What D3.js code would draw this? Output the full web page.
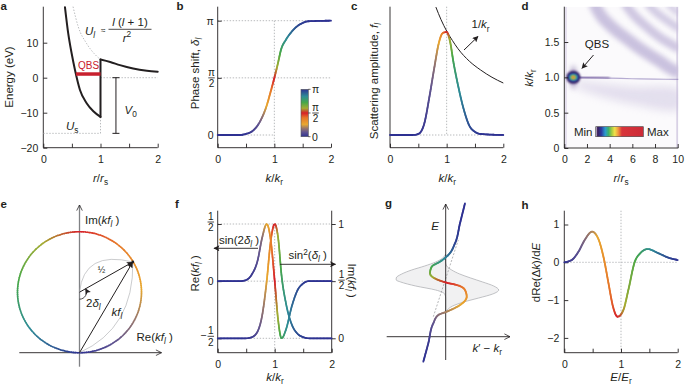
<!DOCTYPE html>
<html><head><meta charset="utf-8">
<script src="https://cdn.jsdelivr.net/npm/d3@7"></script>
<style>
body{margin:0;background:#fff}
svg{display:block;font-family:"Liberation Sans",Arial,Helvetica,sans-serif}
</style></head><body>
<svg id="fig" width="685" height="388"></svg>
<script>
// ---------- values ----------
// shared k/k_r grid for panels b, c, f
var kGrid = [0, 0.4, 0.5, 0.6, 0.7, 0.78, 0.86, 0.93, 1.0, 1.06, 1.12, 1.2, 1.3, 1.4, 1.5, 1.6, 2.0];
var phase = [0, 0, 0.01, 0.03, 0.08, 0.15, 0.25, 0.37, 0.5, 0.62, 0.75, 0.83, 0.9, 0.95, 0.98, 0.995, 1]; // delta/pi
var ampC  = [0, 0, 0.01, 0.1, 0.38, 0.64, 0.88, 0.98, 0.99, 0.9, 0.7, 0.48, 0.25, 0.09, 0.03, 0.01, 0];
var reKf  = [0, 0, 0.01, 0.06, 0.18, 0.38, 0.5, 0.36, 0, -0.34, -0.5, -0.42, -0.22, -0.08, -0.02, 0, 0];
var imKf  = [0, 0, 0, 0.01, 0.06, 0.2, 0.5, 0.85, 1, 0.88, 0.55, 0.3, 0.12, 0.04, 0.01, 0, 0];
var invK  = [0.81, 0.9, 1.0, 1.1, 1.2, 1.4, 1.6, 1.8, 2.0];
var invV  = [1.23, 1.11, 1.0, 0.91, 0.83, 0.71, 0.625, 0.555, 0.5];

// panel a potential
var wellR  = [0.379, 0.437, 0.496, 0.554, 0.641, 0.758, 0.875, 1.0];
var wellU  = [20.1, 12.5, 6.9, 2.2, -3.5, -7.3, -9.6, -11.2];
var tailR  = [1.0, 1.17, 1.34, 1.57, 1.81, 2.0];
var tailU  = [5.2, 4.5, 3.6, 2.64, 2.0, 1.7];
var centR  = [0.52, 0.61, 0.756, 0.9, 1.0];
var centU  = [20.3, 14.6, 9.8, 6.7, 5.2];
var qbsR   = [0.57, 1.0], qbsU = 1.05;
var uS     = -15.9, v0R = 1.27;

// panel d features (r/r_s, k/k_r)
var qbsSpot = [0.8, 1.0];
var ridge   = [[0.8, 1.0], [2, 0.995], [4, 0.99], [6, 0.98], [8, 0.975], [10.2, 0.97]];
var bandA   = [[2.6, 2.06], [3.3, 1.86], [4.3, 1.7], [5.4, 1.56], [6.4, 1.44], [7.4, 1.33], [8.4, 1.23], [9.3, 1.13], [10.2, 1.06]];
var bandB   = [[5.3, 2.05], [6.2, 1.87], [7.3, 1.71], [8.3, 1.58], [9.3, 1.48], [10.2, 1.4]];
var bandC   = [[7.3, 2.05], [8.1, 1.92], [9.0, 1.81], [10.2, 1.68]];
var bandD   = [[9.1, 2.05], [9.6, 1.97], [10.2, 1.9]];
var haze    = [[1, 0.96], [3, 0.92], [6, 0.87], [10.2, 0.82], [10.2, 0.55], [6, 0.62], [3, 0.74], [1, 0.86]];

// panel e
var tipRe = 0.43, tipIm = 0.75;

// panel g (k'-k_r, E) in arbitrary units
var gDk    = [-0.448, -0.348, -0.248, -0.148, 0.02, 0.286, 0.42, 0.386, 0.22, 0.02, -0.18, -0.314, -0.28, -0.114, 0.052, 0.186, 0.286, 0.386];
var gE     = [-0.5, -0.132, 0.268, 0.434, 0.5, 0.634, 0.8, 0.934, 1.034, 1.08, 1.148, 1.268, 1.4, 1.5, 1.634, 1.868, 2.268, 2.668];
var gPhase = [0, 0.03, 0.1, 0.16, 0.2, 0.26, 0.32, 0.38, 0.45, 0.5, 0.56, 0.66, 0.74, 0.82, 0.9, 0.97, 1, 1];
var lobeE     = [1.654, 1.574, 1.494, 1.414, 1.334, 1.254, 1.174, 1.134, 1.094, 1.014, 0.934, 0.854, 0.774, 0.694, 0.614, 0.534, 0.474];
var lobeLeft  = [0, -0.06, -0.2, -0.42, -0.68, -0.88, -0.99, -0.99, -0.9, -0.6, -0.2, -0.02, 0, 0, 0, 0, 0];
var lobeRight = [0, 0, 0, 0.02, 0.12, 0.28, 0.5, 0.62, 0.74, 0.96, 1.06, 0.94, 0.66, 0.36, 0.14, 0.03, 0];
var gAsym  = [[-0.248, 0.4], [0.252, 1.934]];

// panel h
var hE     = [0, 0.13, 0.25, 0.36, 0.49, 0.6, 0.7, 0.78, 0.86, 0.94, 1.04, 1.13, 1.24, 1.34, 1.47, 1.66, 1.84, 2];
var hV     = [0, 0.06, 0.28, 0.59, 0.81, 0.62, 0.08, -0.56, -1.18, -1.44, -1.27, -0.73, 0, 0.24, 0.35, 0.24, 0.12, 0.06];
var hPhase = [0, 0.04, 0.09, 0.14, 0.2, 0.27, 0.33, 0.39, 0.44, 0.5, 0.58, 0.64, 0.7, 0.76, 0.82, 0.9, 0.96, 1];

// colour maps
var phaseStops  = [0, 0.1, 0.18, 0.26, 0.4, 0.5, 0.6, 0.72, 0.85, 1];
var phaseColors = ["#2e3192", "#62558f", "#9a7868", "#e8a830", "#e6772a", "#d6202a", "#a4ac32", "#48a848", "#2e8c96", "#2e3192"];
var heatStops   = [0, 0.04, 0.12, 0.2, 0.27, 0.34, 0.4, 0.47, 0.55, 1];
var heatColors  = ["#f0eef4", "#3a1d5a", "#2b3a9e", "#2a9ad0", "#3cb06a", "#a8cc40", "#f2e14a", "#f09a40", "#d8343a", "#cc2a38"];

// ---------- drawing ----------
var ink = "#231f20", FS = 10.5, LFS = 11.5;
var svg = d3.select("#fig");
var defs = svg.append("defs");
var cmap = d3.scaleLinear().domain(phaseStops).range(phaseColors);
var hmap = d3.scaleLinear().domain(heatStops).range(heatColors);
var intFmt = d3.format("d");

defs.append("marker").attr("id", "hf").attr("viewBox", "0 0 10 10").attr("refX", 9).attr("refY", 5)
  .attr("markerWidth", 7).attr("markerHeight", 6).attr("markerUnits", "userSpaceOnUse").attr("orient", "auto")
  .append("path").attr("d", "M0,0L10,5L0,10L2,5Z").attr("fill", ink);
defs.append("marker").attr("id", "ho").attr("viewBox", "0 0 10 10").attr("refX", 9).attr("refY", 5)
  .attr("markerWidth", 7).attr("markerHeight", 7).attr("markerUnits", "userSpaceOnUse").attr("orient", "auto")
  .append("path").attr("d", "M1,1L9,5L1,9").attr("fill", "none").attr("stroke", ink).attr("stroke-width", 1.1);
[["1", 1], ["2", 2.5], ["4", 4]].forEach(function(s) {
  defs.append("filter").attr("id", "bl" + s[0]).attr("x", "-50%").attr("y", "-50%").attr("width", "200%").attr("height", "200%")
    .append("feGaussianBlur").attr("stdDeviation", s[1]);
});

function zip(a, b) { return a.map(function(v, i) { return [v, b[i]]; }); }

function rich(sel, x, y, parts, o) {
  o = o || {};
  var size = o.size || FS;
  var t = sel.append("text").attr("x", x).attr("y", y).attr("font-size", size)
    .attr("fill", o.fill || ink).attr("text-anchor", o.anchor || "start");
  if (o.rotate) t.attr("transform", "rotate(" + o.rotate + "," + x + "," + y + ")");
  var shift = 0;
  parts.forEach(function(p) {
    var f = p[1] || "", s = t.append("tspan").text(p[0]);
    var want = f.indexOf("b") >= 0 ? size * 0.28 : f.indexOf("p") >= 0 ? -size * 0.38 : 0;
    if (want !== shift) { s.attr("dy", want - shift); shift = want; }
    if (f.indexOf("i") >= 0) s.attr("font-style", "italic");
    if (want !== 0) s.attr("font-size", size * 0.72);
  });
  return t;
}

// stacked fraction, bar at y
function frac(sel, x, y, num, den, size, w) {
  size = size || 10; w = w || 6.5;
  sel.append("text").attr("x", x).attr("y", y - 2).attr("text-anchor", "middle").attr("font-size", size).attr("fill", ink).text(num);
  sel.append("line").attr("x1", x - w / 2).attr("x2", x + w / 2).attr("y1", y).attr("y2", y).attr("stroke", ink).attr("stroke-width", 0.8);
  sel.append("text").attr("x", x).attr("y", y + size * 0.93).attr("text-anchor", "middle").attr("font-size", size).attr("fill", ink).text(den);
}

function line(sel, x1, y1, x2, y2, col, w) {
  return sel.append("line").attr("x1", x1).attr("y1", y1).attr("x2", x2).attr("y2", y2)
    .attr("stroke", col || ink).attr("stroke-width", w || 0.9);
}
function dotted(sel, x1, y1, x2, y2) {
  return line(sel, x1, y1, x2, y2, "#a7a9ac", 0.8).attr("stroke-dasharray", "1.4,1.6");
}
function styleAxis(g) {
  g.attr("font-family", null).attr("font-size", FS);
  g.select(".domain").remove();
  g.selectAll(".tick line").attr("stroke", ink).attr("stroke-width", 0.9);
  g.selectAll(".tick text").attr("fill", ink);
  return g;
}
function letter(x, y, s) {
  svg.append("text").attr("x", x).attr("y", y).attr("font-size", 11.5).attr("font-weight", "bold").attr("fill", ink).text(s);
}

// coloured line: samples the curve and colours each piece by phase
function gradLine(g, pts, ph, w, curve) {
  var p = g.append("path").attr("d", d3.line().curve(curve || d3.curveMonotoneX)(pts)).attr("fill", "none");
  var node = p.node(), L = node.getTotalLength();
  var cum = [0];
  for (var i = 1; i < pts.length; i++) cum.push(cum[i - 1] + Math.hypot(pts[i][0] - pts[i - 1][0], pts[i][1] - pts[i - 1][1]));
  var C = cum[cum.length - 1], n = Math.ceil(L / 1.4), s = [];
  for (var j = 0; j <= n; j++) s.push(node.getPointAtLength(L * j / n));
  p.remove();
  var seg = g.append("g").attr("stroke-width", w).attr("stroke-linecap", "round");
  for (j = 0; j < n; j++) {
    var t = C * (j + 0.5) / n, k = Math.max(0, Math.min(d3.bisectRight(cum, t) - 1, cum.length - 2));
    var f = (t - cum[k]) / ((cum[k + 1] - cum[k]) || 1);
    seg.append("line").attr("x1", s[j].x).attr("y1", s[j].y).attr("x2", s[j + 1].x).attr("y2", s[j + 1].y)
      .attr("stroke", cmap(ph[k] + f * (ph[k + 1] - ph[k])));
  }
}

// ===== a =====
(function() {
  var g = svg.append("g");
  var x = d3.scaleLinear([0, 2], [43.3, 157.7]), y = d3.scaleLinear([-20, 20], [147.7, 7.7]);
  styleAxis(g.append("g").attr("transform", "translate(0,147.7)")
    .call(d3.axisBottom(x).tickValues([0, 0.5, 1, 1.5, 2]).tickFormat(function(d) { return d % 1 ? "" : d; })
      .tickSizeInner(-4).tickSizeOuter(0).tickPadding(8)));
  styleAxis(g.append("g").attr("transform", "translate(43.3,0)")
    .call(d3.axisLeft(y).tickValues([-20, -10, 0, 10]).tickFormat(intFmt).tickSizeInner(-4).tickSizeOuter(0).tickPadding(5)));
  line(g, 43.3, 147.7, 157.7, 147.7); line(g, 43.3, 147.7, 43.3, 6.7);
  dotted(g, x(0), y(uS), x(1), y(uS));
  dotted(g, x(1), y(uS), x(1), y(wellU[wellU.length - 1]));
  dotted(g, x(1), y(0), x(2), y(0));
  var ln = d3.line().curve(d3.curveMonotoneX).x(function(d) { return x(d[0]); }).y(function(d) { return y(d[1]); });
  g.append("path").attr("d", ln(zip(centR, centU))).attr("fill", "none").attr("stroke", "#a7a9ac")
    .attr("stroke-width", 0.8).attr("stroke-dasharray", "1.4,1.6");
  var well = g.append("g").attr("fill", "none").attr("stroke", ink).attr("stroke-width", 2).attr("stroke-linecap", "round");
  well.append("path").attr("d", ln(zip(wellR, wellU)));
  well.append("line").attr("x1", x(1)).attr("x2", x(1)).attr("y1", y(wellU[wellU.length - 1])).attr("y2", y(tailU[0]));
  well.append("path").attr("d", ln(zip(tailR, tailU)));
  line(g, x(qbsR[0]), y(qbsU), x(qbsR[1]), y(qbsU), "#c8202e", 3.5);
  rich(g, 88.5, 69, [["QBS"]], { anchor: "middle", fill: "#c8202e", size: 10 });
  line(g, x(v0R), y(0), x(v0R), y(uS), ink, 1);
  line(g, x(v0R) - 3.5, y(0), x(v0R) + 3.5, y(0), ink, 1);
  line(g, x(v0R) - 3.5, y(uS), x(v0R) + 3.5, y(uS), ink, 1);
  rich(g, 124.5, 113.5, [["V", "i"], ["0", "b"]], { size: LFS });
  rich(g, 66, 130, [["U", "i"], ["s", "b"]], { size: LFS });
  rich(g, 85, 35, [["U", "i"], ["l", "ib"]], { size: LFS });
  rich(g, 101, 33, [["\u2248"]], { size: 8 });
  rich(g, 130, 26.3, [["l", "i"], [" ("], ["l", "i"], [" + 1)"]], { anchor: "middle", size: LFS });
  line(g, 108.5, 29.3, 151.5, 29.3, ink, 0.8);
  rich(g, 127, 41.5, [["r", "i"], ["2", "p"]], { anchor: "middle", size: LFS });
  rich(g, 12.5, 77, [["Energy (eV)"]], { anchor: "middle", rotate: -90, size: LFS });
  rich(g, 100.5, 181.5, [["r", "i"], ["/"], ["r", "i"], ["s", "b"]], { anchor: "middle", size: LFS });
  letter(0.5, 10, "a");
})();

// ===== b =====
(function() {
  var g = svg.append("g");
  var x = d3.scaleLinear([0, 2], [217.7, 331]), y = d3.scaleLinear([0, 1], [135, 20.7]);
  dotted(g, x(0), y(1), x(2), y(1)); dotted(g, x(0), y(0.5), x(2), y(0.5));
  dotted(g, x(0), y(0), x(1), y(0)); dotted(g, x(1), y(1), x(1), 147.7);
  styleAxis(g.append("g").attr("transform", "translate(0,147.7)")
    .call(d3.axisBottom(x).tickValues([0, 0.5, 1, 1.5, 2]).tickFormat(function(d) { return d % 1 ? "" : d; })
      .tickSizeInner(-4).tickSizeOuter(0).tickPadding(8)));
  styleAxis(g.append("g").attr("transform", "translate(217.7,0)")
    .call(d3.axisLeft(y).tickValues([0, 0.5, 1]).tickFormat(function(d) { return d === 0 ? "0" : d === 1 ? "\u03c0" : ""; })
      .tickSizeInner(-4).tickSizeOuter(0).tickPadding(4)));
  frac(g, 211.5, y(0.5), "\u03c0", "2", 10, 6.5);
  line(g, 217.7, 147.7, 331, 147.7); line(g, 217.7, 147.7, 217.7, 6.7);
  gradLine(g, zip(kGrid, phase).map(function(d) { return [x(d[0]), y(d[1])]; }), phase, 1.8);
  // colour bar
  var gr = defs.append("linearGradient").attr("id", "phaseBar").attr("x1", 0).attr("x2", 0).attr("y1", 1).attr("y2", 0);
  phaseStops.forEach(function(s, i) { gr.append("stop").attr("offset", s).attr("stop-color", phaseColors[i]); });
  var cb = d3.scaleLinear([0, 1], [136.7, 89.3]);
  g.append("rect").attr("x", 301).attr("y", cb(1)).attr("width", 7.3).attr("height", cb(0) - cb(1))
    .attr("fill", "url(#phaseBar)").attr("stroke", "#58595b").attr("stroke-width", 0.6);
  [0, 0.5, 1].forEach(function(v) { line(g, 308.3, cb(v), 310.5, cb(v), ink, 0.7); });
  rich(g, 312, cb(1) + 4, [["\u03c0"]]);
  frac(g, 315.5, cb(0.5), "\u03c0", "2", 10, 6.5);
  rich(g, 312, cb(0) + 4, [["0"]]);
  rich(g, 199, 73.5, [["Phase shift, "], ["\u03b4", "i"], ["l", "ib"]], { anchor: "middle", rotate: -90, size: LFS });
  rich(g, 274.3, 181.5, [["k", "i"], ["/"], ["k", "i"], ["r", "b"]], { anchor: "middle", size: LFS });
  letter(176.5, 10.3, "b");
})();

// ===== c =====
(function() {
  var g = svg.append("g");
  var x = d3.scaleLinear([0, 2], [390, 503.3]), y = d3.scaleLinear([0, 1], [135, 31]);
  dotted(g, x(0), y(0), x(2), y(0)); dotted(g, x(1), 6.7, x(1), y(0));
  styleAxis(g.append("g").attr("transform", "translate(0,147.7)")
    .call(d3.axisBottom(x).tickValues([0, 0.5, 1, 1.5, 2]).tickFormat(function(d) { return d % 1 ? "" : d; })
      .tickSizeInner(-4).tickSizeOuter(0).tickPadding(8)));
  line(g, 390, 147.7, 503.3, 147.7); line(g, 390, 147.7, 390, 6.7);
  var ln = d3.line().curve(d3.curveMonotoneX).x(function(d) { return x(d[0]); }).y(function(d) { return y(d[1]); });
  g.append("path").attr("d", ln(zip(invK, invV))).attr("fill", "none").attr("stroke", ink).attr("stroke-width", 1);
  gradLine(g, zip(kGrid, ampC).map(function(d) { return [x(d[0]), y(d[1])]; }), phase, 1.8);
  line(g, 464, 50, 478, 36.5, ink, 1).attr("marker-end", "url(#hf)");
  rich(g, 471.5, 28.3, [["1/"], ["k", "i"], ["r", "b"]], { size: LFS });
  rich(g, 378, 81, [["Scattering amplitude, "], ["f", "i"], ["l", "ib"]], { anchor: "middle", rotate: -90, size: LFS });
  rich(g, 447.3, 181.5, [["k", "i"], ["/"], ["k", "i"], ["r", "b"]], { anchor: "middle", size: LFS });
  letter(351, 10.3, "c");
})();

// ===== d =====
(function() {
  var g = svg.append("g");
  var x = d3.scaleLinear([0, 10], [564.3, 677.7]), y = d3.scaleLinear([0, 2], [148, 6.7]);
  defs.append("clipPath").attr("id", "dclip").append("rect")
    .attr("x", 564.3).attr("y", 6.7).attr("width", 114).attr("height", 141.3);
  var hm = g.append("g").attr("clip-path", "url(#dclip)");
  hm.append("rect").attr("x", 564.3).attr("y", 6.7).attr("width", 114).attr("height", 141.3).attr("fill", "#fbfafc");
  var ln = d3.line().curve(d3.curveCatmullRom).x(function(d) { return x(d[0]); }).y(function(d) { return y(d[1]); });
  hm.append("path").attr("d", ln(haze) + "Z").attr("fill", "#b9aed4").attr("opacity", 0.35).attr("filter", "url(#bl4)");
  [[bandA, 12, 0.55], [bandB, 9, 0.5], [bandC, 8, 0.45], [bandD, 7, 0.4]].forEach(function(b) {
    hm.append("path").attr("d", ln(b[0])).attr("fill", "none").attr("stroke", "#a193c6")
      .attr("stroke-width", b[1]).attr("opacity", b[2]).attr("filter", "url(#bl2)");
  });
  line(hm, 677.3, 6.7, 677.3, 148, "#c9bfdc", 2).attr("opacity", 0.7);
  line(hm, 566, 6.7, 566, 148, "#d9d1e6", 2).attr("opacity", 0.6);
  hm.append("path").attr("d", ln(ridge)).attr("fill", "none").attr("stroke", "#9282bb").attr("stroke-width", 1.2).attr("opacity", 0.65);
  var cx = x(qbsSpot[0]), cy = y(qbsSpot[1]);
  hm.append("path").attr("d", ln(ridge.slice(0, 3))).attr("fill", "none").attr("stroke", "#5b3f8c")
    .attr("stroke-width", 2.5).attr("opacity", 0.5).attr("filter", "url(#bl1)");
  hm.append("ellipse").attr("cx", cx).attr("cy", cy).attr("rx", 3).attr("ry", 12).attr("fill", "#6a5496")
    .attr("opacity", 0.5).attr("filter", "url(#bl2)");
  [[7, 6.5, 0.05], [5.5, 4.3, 0.1], [4.3, 3.3, 0.18], [3.3, 2.5, 0.25], [2.4, 1.9, 0.34], [1.7, 1.4, 0.44], [1.1, 0.9, 0.7]]
    .forEach(function(e) {
      hm.append("ellipse").attr("cx", cx).attr("cy", cy).attr("rx", e[0]).attr("ry", e[1]).attr("fill", hmap(e[2]))
        .attr("filter", "url(#bl1)");
    });
  styleAxis(g.append("g").attr("transform", "translate(0,148)")
    .call(d3.axisBottom(x).tickValues([0, 2, 4, 6, 8, 10]).tickFormat(intFmt).tickSizeInner(-4).tickSizeOuter(0).tickPadding(8)));
  styleAxis(g.append("g").attr("transform", "translate(564.3,0)")
    .call(d3.axisLeft(y).tickValues([0, 0.5, 1, 1.5]).tickFormat(function(d) { return d ? d3.format(".1f")(d) : "0"; })
      .tickSizeInner(-4).tickSizeOuter(0).tickPadding(5)));
  line(g, 564.3, 148, 678.3, 148); line(g, 564.3, 148, 564.3, 6.7);
  rich(g, 597, 47.5, [["QBS"]], { anchor: "middle", size: LFS });
  line(g, 593.5, 55, 582, 68.3, ink, 1).attr("marker-end", "url(#hf)");
  var gr = defs.append("linearGradient").attr("id", "heatBar");
  heatStops.forEach(function(s, i) { gr.append("stop").attr("offset", s).attr("stop-color", heatColors[i]); });
  g.append("rect").attr("x", 595.7).attr("y", 126.7).attr("width", 47.6).attr("height", 10)
    .attr("fill", "url(#heatBar)").attr("stroke", "#414042").attr("stroke-width", 0.6);
  rich(g, 592.5, 135.5, [["Min"]], { anchor: "end", size: LFS });
  rich(g, 647, 135.5, [["Max"]], { size: LFS });
  rich(g, 533, 78, [["k", "i"], ["/"], ["k", "i"], ["r", "b"]], { anchor: "middle", rotate: -90, size: LFS });
  rich(g, 621, 181.5, [["r", "i"], ["/"], ["r", "i"], ["s", "b"]], { anchor: "middle", size: LFS });
  letter(521.5, 10.3, "d");
})();

// ===== e =====
(function() {
  var g = svg.append("g");
  var x = d3.scaleLinear([-0.5, 0.5], [17.5, 141.5]), y = d3.scaleLinear([0, 1], [352.7, 231.7]);
  var cx = x(0), cy = y(0.5), rx = x(0.5) - x(0), ry = y(0) - y(0.5);
  line(g, 19.3, y(0), 161.5, y(0), ink, 0.9).attr("marker-end", "url(#ho)");
  line(g, cx, 366.7, cx, 205, "#808285", 1.3).attr("marker-end", "url(#ho)");
  var ring = d3.arc().innerRadius(rx - 0.8).outerRadius(rx + 0.8);
  var rg = g.append("g").attr("transform", "translate(" + cx + "," + cy + ") scale(1," + (ry / rx) + ")");
  var n = 180;
  d3.range(n).forEach(function(i) {
    var t0 = i / n * 2 * Math.PI, t1 = (i + 1) / n * 2 * Math.PI + 0.012;
    rg.append("path").attr("d", ring({ startAngle: Math.PI - t1, endAngle: Math.PI - t0 })).attr("fill", cmap((i + 0.5) / n));
  });
  var tx = x(tipRe), ty = y(tipIm);
  g.append("path").attr("d", "M" + cx + "," + cy + "Q84,250 " + tx + "," + ty).attr("fill", "none").attr("stroke", "#a7a9ac").attr("stroke-width", 0.6);
  g.append("path").attr("d", "M" + cx + "," + y(0) + "Q134,328 " + tx + "," + ty).attr("fill", "none").attr("stroke", "#a7a9ac").attr("stroke-width", 0.6);
  line(g, cx, cy, tx - 0.5, ty + 0.3, ink, 1).attr("marker-end", "url(#hf)");
  line(g, cx, y(0), tx - 0.3, ty + 0.5, ink, 1).attr("marker-end", "url(#hf)");
  g.append("circle").attr("cx", tx).attr("cy", ty).attr("r", 1.4).attr("fill", ink);
  var ar = 7, a2 = Math.atan2(ty - cy, tx - cx);
  g.append("path").attr("d", "M" + cx + "," + (cy + ar) + "A" + ar + "," + ar + " 0 0 0 " + (cx + ar * Math.cos(a2)) + "," + (cy + ar * Math.sin(a2)))
    .attr("fill", "none").attr("stroke", ink).attr("stroke-width", 0.8).attr("marker-end", "url(#hf)");
  rich(g, 101.5, 273, [["\u00bd"]], { anchor: "middle", size: 9 });
  rich(g, 86, 306.5, [["2"], ["\u03b4", "i"], ["l", "ib"]], { size: LFS });
  rich(g, 111.5, 315.5, [["kf", "i"], ["l", "ib"]], { size: LFS });
  rich(g, 85, 224, [["Im("], ["kf", "i"], ["l", "ib"], [" )"]], { size: LFS });
  rich(g, 136.5, 340.5, [["Re("], ["kf", "i"], ["l", "ib"], [" )"]], { size: LFS });
  letter(0.5, 208, "e");
})();

// ===== f =====
(function() {
  var g = svg.append("g");
  var x = d3.scaleLinear([0, 2], [217.7, 331.7]);
  var yr = d3.scaleLinear([-0.5, 0.5], [338.3, 224]), yi = d3.scaleLinear([0, 1], [338.3, 224]);
  dotted(g, x(0), yr(0.5), x(2), yr(0.5)); dotted(g, x(0), yr(0), x(2), yr(0));
  dotted(g, x(0), yr(-0.5), x(2), yr(-0.5)); dotted(g, x(1), yr(0.5), x(1), 352.7);
  styleAxis(g.append("g").attr("transform", "translate(0,352.7)")
    .call(d3.axisBottom(x).tickValues([0, 0.5, 1, 1.5, 2]).tickFormat(function(d) { return d % 1 ? "" : d; })
      .tickSizeInner(-4).tickSizeOuter(0).tickPadding(8)));
  styleAxis(g.append("g").attr("transform", "translate(217.7,0)")
    .call(d3.axisLeft(yr).tickValues([-0.5, 0, 0.5]).tickFormat(function(d) { return d === 0 ? "0" : ""; })
      .tickSizeInner(-4).tickSizeOuter(0).tickPadding(4)));
  styleAxis(g.append("g").attr("transform", "translate(331.7,0)")
    .call(d3.axisRight(yi).tickValues([0, 0.5, 1]).tickFormat(function(d) { return d === 0.5 ? "" : d; })
      .tickSizeInner(4).tickSizeOuter(0).tickPadding(2.5)));
  frac(g, 210.8, yr(0.5) - 2, "1", "2", 10, 6.5);
  frac(g, 210.8, yr(-0.5) - 2, "1", "2", 10, 6.5);
  rich(g, 206.5, yr(-0.5) + 1, [["\u2212"]], { anchor: "end" });
  frac(g, 341.5, yi(0.5) - 1, "1", "2", 10, 6.5);
  line(g, 217.7, 352.7, 331.7, 352.7); line(g, 217.7, 352.7, 217.7, 210.7); line(g, 331.7, 352.7, 331.7, 210.7);
  var ptsI = zip(kGrid, imKf).map(function(d) { return [x(d[0]), yi(d[1])]; });
  var ptsR = zip(kGrid, reKf).map(function(d) { return [x(d[0]), yr(d[1])]; });
  gradLine(g, ptsI, phase, 1.7);
  gradLine(g, ptsR, phase, 1.7);
  line(g, 258, 248.3, 214, 248.3, ink, 0.9).attr("marker-end", "url(#hf)");
  line(g, 280, 264.3, 335.5, 264.3, ink, 0.9).attr("marker-end", "url(#hf)");
  rich(g, 219, 244, [["sin(2"], ["\u03b4", "i"], ["l", "ib"], [" )"]], { size: LFS });
  rich(g, 288.5, 259, [["sin"], ["2", "p"], ["("], ["\u03b4", "i"], ["l", "ib"], [" )"]], { size: LFS });
  rich(g, 199, 273.3, [["Re("], ["kf", "i"], ["l", "ib"], [" )"]], { anchor: "middle", rotate: -90, size: LFS });
  rich(g, 348.2, 280.7, [["Im("], ["kf", "i"], ["l", "ib"], [" )"]], { anchor: "middle", rotate: 90, size: LFS });
  rich(g, 275, 381, [["k", "i"], ["/"], ["k", "i"], ["r", "b"]], { anchor: "middle", size: LFS });
  letter(175, 208.3, "f");
})();

// ===== g =====
(function() {
  var g = svg.append("g");
  var x = d3.scaleLinear([-1, 1], [395.7, 495.7]), y = d3.scaleLinear([0, 2], [336.7, 236.7]);
  var rows = lobeE.map(function(e, i) { return { e: e, l: lobeLeft[i], r: lobeRight[i] }; }).reverse();
  g.append("path").attr("d", d3.area().curve(d3.curveMonotoneY).y(function(d) { return y(d.e); })
      .x0(function(d) { return x(d.l); }).x1(function(d) { return x(d.r); })(rows)).attr("fill", "#f1f1f2");
  ["l", "r"].forEach(function(side) {
    g.append("path").attr("d", d3.line().curve(d3.curveMonotoneY).x(function(d) { return x(d[side]); }).y(function(d) { return y(d.e); })(rows))
      .attr("fill", "none").attr("stroke", "#b1b3b6").attr("stroke-width", 0.8);
  });
  line(g, x(gAsym[0][0]), y(gAsym[0][1]), x(gAsym[1][0]), y(gAsym[1][1]), "#939598", 0.7).attr("stroke-dasharray", "2,1.6");
  line(g, 386.7, y(0), 510, y(0), ink, 0.9).attr("marker-end", "url(#ho)");
  line(g, x(0), 360, x(0), 204, ink, 0.9).attr("marker-end", "url(#ho)");
  var pts = zip(gDk, gE).map(function(d) { return [x(d[0]), y(d[1])]; }).reverse();
  gradLine(g, pts, gPhase.slice().reverse(), 1.8, d3.curveMonotoneY);
  rich(g, 435, 230, [["E", "i"]], { anchor: "middle", size: LFS });
  rich(g, 472.5, 351.5, [["k", "i"], ["\u2032 \u2212 "], ["k", "i"], ["r", "b"]], { size: LFS });
  letter(385, 206.5, "g");
})();

// ===== h =====
(function() {
  var g = svg.append("g");
  var x = d3.scaleLinear([0, 2], [564.3, 677.7]), y = d3.scaleLinear([-2, 1], [337.9, 224.5]);
  dotted(g, x(0), y(0), x(2), y(0)); dotted(g, x(1), 210.7, x(1), 352.7);
  styleAxis(g.append("g").attr("transform", "translate(0,352.7)")
    .call(d3.axisBottom(x).tickValues([0, 0.5, 1, 1.5, 2]).tickFormat(function(d) { return d % 1 ? "" : d; })
      .tickSizeInner(-4).tickSizeOuter(0).tickPadding(8)));
  styleAxis(g.append("g").attr("transform", "translate(564.3,0)")
    .call(d3.axisLeft(y).tickValues([-2, -1, 0, 1]).tickFormat(intFmt).tickSizeInner(-4).tickSizeOuter(0).tickPadding(5)));
  line(g, 564.3, 352.7, 677.7, 352.7); line(g, 564.3, 352.7, 564.3, 210.7);
  gradLine(g, zip(hE, hV).map(function(d) { return [x(d[0]), y(d[1])]; }), hPhase, 1.8);
  rich(g, 540, 272.5, [["dRe(\u0394"], ["k", "i"], [")/d"], ["E", "i"]], { anchor: "middle", rotate: -90, size: LFS });
  rich(g, 621, 381, [["E", "i"], ["/"], ["E", "i"], ["r", "b"]], { anchor: "middle", size: LFS });
  letter(521.5, 209.3, "h");
})();
</script>
</body></html>
